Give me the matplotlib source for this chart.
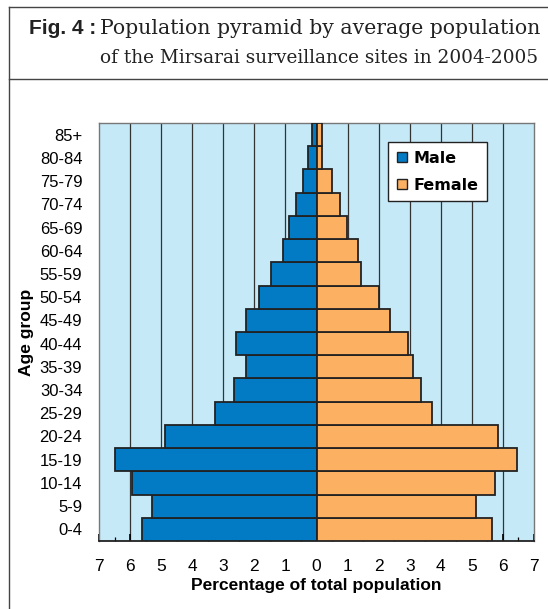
import numpy as np
import matplotlib.pyplot as plt
from matplotlib.lines import Line2D
from matplotlib.patches import Patch

# Age groups, bottom to top
age_groups = ["0-4", "5-9", "10-14", "15-19", "20-24", "25-29", "30-34", "35-39",
              "40-44", "45-49", "50-54", "55-59", "60-64", "65-69", "70-74",
              "75-79", "80-84", "85+"]
male = [5.63, 5.28, 5.95, 6.47, 4.86, 3.26, 2.64, 2.27, 2.58, 2.27, 1.86,
        1.45, 1.09, 0.89, 0.67, 0.42, 0.27, 0.16]
female = [5.64, 5.12, 5.74, 6.46, 5.84, 3.71, 3.36, 3.09, 2.95, 2.38, 2.00,
          1.44, 1.34, 0.97, 0.77, 0.50, 0.19, 0.19]
xticks = [-7, -6, -5, -4, -3, -2, -1, 0, 1, 2, 3, 4, 5, 6, 7]

male_col = "#037bc4"
female_col = "#fbb062"
bg_col = "#c6e9f8"

W, H = 548, 609
fig = plt.figure(figsize=(W / 100, H / 100), dpi=100)

# frame around figure and title divider
fig.add_artist(Line2D([9 / W, 9 / W], [0, 1 - 7 / H], color="#444444", lw=1.0))
fig.add_artist(Line2D([9 / W, 1], [1 - 7 / H, 1 - 7 / H], color="#444444", lw=1.0))
fig.add_artist(Line2D([9 / W, 1], [1 - 79 / H, 1 - 79 / H], color="#444444", lw=1.0))

# title
fig.text(96 / W, 1 - 28 / H, "Fig. 4 :", fontsize=15, fontweight="bold",
         family="Liberation Sans", color="#222222", va="center", ha="right")
t1 = fig.text(100 / W, 1 - 28 / H, "Population pyramid by average population",
              fontsize=15, family="DejaVu Serif", color="#222222", va="center", ha="left")
t2 = fig.text(100 / W, 1 - 58 / H, "of the Mirsarai surveillance sites in 2004-2005",
              fontsize=15, family="DejaVu Serif", color="#222222", va="center", ha="left")
r = fig.canvas.get_renderer()
for t, x0 in [(t1, 100), (t2, 100)]:
    w = t.get_window_extent(r).width
    t.set_fontsize(15 * (540 - x0) / w)

ax = fig.add_axes([99 / W, 1 - 541 / H, 435 / W, 418 / H])
ax.set_facecolor(bg_col)

y = np.arange(len(age_groups))
ax.barh(y, [-m for m in male], height=1.0, color=male_col, edgecolor="#222222",
        linewidth=1.3, zorder=3)
ax.barh(y, female, height=1.0, color=female_col, edgecolor="#222222",
        linewidth=1.3, zorder=3)

for xv in xticks[1:-1]:
    ax.axvline(xv, color="#333333", lw=0.9, zorder=1)

ax.set_xlim(-7, 7)
ax.set_ylim(-0.5, len(age_groups) - 0.5)
ax.set_xticks(xticks)
ax.set_xticklabels([str(abs(v)) for v in xticks], fontsize=12.5, family="Liberation Sans")
ax.set_xticks(np.arange(-6.5, 7, 1.0), minor=True)
ax.set_yticks(y)
ax.set_yticklabels(age_groups, fontsize=12, family="Liberation Sans")
ax.tick_params(axis="y", length=0, pad=12)
ax.tick_params(axis="x", which="major", direction="in", length=5, width=1.2, pad=13)
ax.tick_params(axis="x", which="minor", direction="in", length=3, width=0.9)

for s in ["left", "right", "top"]:
    ax.spines[s].set_color("#777777")
    ax.spines[s].set_linewidth(1.0)
ax.spines["bottom"].set_color("#222222")
ax.spines["bottom"].set_linewidth(1.3)

ax.set_xlabel("Percentage of total population", fontsize=12.5, fontweight="bold",
              family="Liberation Sans", labelpad=3)
ax.set_ylabel("Age group", fontsize=12.5, fontweight="bold", family="Liberation Sans",
              labelpad=4)

handles = [Patch(facecolor=male_col, edgecolor="#222222", label="Male"),
           Patch(facecolor=female_col, edgecolor="#222222", label="Female")]
leg = ax.legend(handles=handles, loc="upper right", bbox_to_anchor=(0.892, 0.955),
                borderaxespad=0, fancybox=False, framealpha=1, edgecolor="#222222",
                prop={"family": "DejaVu Sans", "weight": "bold", "size": 11.5},
                handlelength=0.6, handleheight=0.6, handletextpad=0.4,
                labelspacing=0.75, borderpad=0.55)
leg.get_frame().set_linewidth(1.0)
leg.set_zorder(5)

fig.savefig("out.png", dpi=100)
